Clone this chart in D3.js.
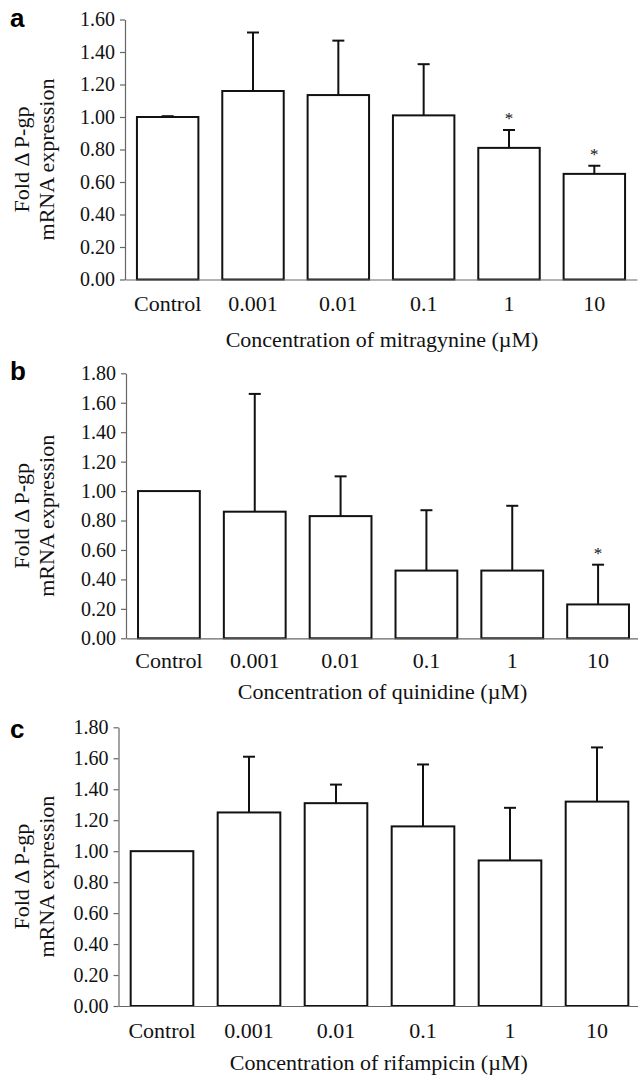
<!DOCTYPE html>
<html>
<head>
<meta charset="utf-8">
<script src="https://cdn.jsdelivr.net/npm/d3@7/dist/d3.min.js"></script>
<style>
  html, body { margin: 0; padding: 0; background: #fff; }
  svg { display: block; }
  .tick text { font-family: "Liberation Serif", "Times New Roman", serif; fill: #111; }
  .axis-title { font-family: "Liberation Serif", "Times New Roman", serif; fill: #111; }
  .panel-label { font-family: "Liberation Sans", Arial, sans-serif; font-weight: bold; fill: #000; }
</style>
</head>
<body>
<svg id="chart" width="638" height="1075"></svg>
<script>
// Categories shared by all three panels
const categories = ['Control', '0.001', '0.01', '0.1', '1', '10'];

// Panel a: mitragynine
const mitragynineMeans = [1.00, 1.16, 1.135, 1.01, 0.81, 0.65];
const mitragynineErrors = [0.005, 0.36, 0.335, 0.315, 0.11, 0.05];
const mitragynineSig = [false, false, false, false, true, true];

// Panel b: quinidine
const quinidineMeans = [1.00, 0.86, 0.83, 0.46, 0.46, 0.23];
const quinidineErrors = [0, 0.80, 0.27, 0.41, 0.44, 0.27];
const quinidineSig = [false, false, false, false, false, true];

// Panel c: rifampicin
const rifampicinMeans = [1.00, 1.25, 1.31, 1.16, 0.94, 1.32];
const rifampicinErrors = [0, 0.36, 0.12, 0.40, 0.34, 0.35];
const rifampicinSig = [false, false, false, false, false, false];

// Y tick values
const ticksA = [0, 0.2, 0.4, 0.6, 0.8, 1.0, 1.2, 1.4, 1.6];
const ticksBC = [0, 0.2, 0.4, 0.6, 0.8, 1.0, 1.2, 1.4, 1.6, 1.8];

const panels = [
  { label: 'a', drug: 'mitragynine', means: mitragynineMeans, errors: mitragynineErrors, sig: mitragynineSig,
    ticks: ticksA, left: 125, right: 637, top: 19.5, bottom: 279.5, labelDy: 7, tickOff: 32, titleOff: 67 },
  { label: 'b', drug: 'quinidine', means: quinidineMeans, errors: quinidineErrors, sig: quinidineSig,
    ticks: ticksBC, left: 126, right: 641, top: 373.3, bottom: 638.3, labelDy: 7, tickOff: 30, titleOff: 61 },
  { label: 'c', drug: 'rifampicin', means: rifampicinMeans, errors: rifampicinErrors, sig: rifampicinSig,
    ticks: ticksBC, left: 118.5, right: 640.5, top: 727.3, bottom: 1006, labelDy: 11, tickOff: 32, titleOff: 64 }
];

const svg = d3.select('#chart');

panels.forEach(p => {
  const g = svg.append('g');
  const maxV = p.ticks[p.ticks.length - 1];

  const x = d3.scaleBand()
    .domain(categories)
    .range([p.left, p.right])
    .paddingInner(0.28)
    .paddingOuter(0.14);

  const y = d3.scaleLinear()
    .domain([0, maxV])
    .range([p.bottom, p.top]);

  const rows = categories.map((c, i) => ({ cat: c, mean: p.means[i], err: p.errors[i], sig: p.sig[i] }));

  // bars
  g.append('g').selectAll('rect')
    .data(rows)
    .enter().append('rect')
    .attr('x', d => x(d.cat))
    .attr('y', d => y(d.mean))
    .attr('width', x.bandwidth())
    .attr('height', d => y(0) - y(d.mean))
    .attr('fill', '#fff')
    .attr('stroke', '#111')
    .attr('stroke-width', 2);

  // error bars (upper only)
  const eb = g.append('g').selectAll('g')
    .data(rows.filter(d => d.err > 0))
    .enter().append('g')
    .attr('stroke', '#111')
    .attr('stroke-width', 2);

  eb.append('line')
    .attr('x1', d => x(d.cat) + x.bandwidth() / 2)
    .attr('x2', d => x(d.cat) + x.bandwidth() / 2)
    .attr('y1', d => y(d.mean))
    .attr('y2', d => y(d.mean + d.err));

  eb.append('line')
    .attr('x1', d => x(d.cat) + x.bandwidth() / 2 - 6)
    .attr('x2', d => x(d.cat) + x.bandwidth() / 2 + 6)
    .attr('y1', d => y(d.mean + d.err))
    .attr('y2', d => y(d.mean + d.err));

  // significance stars
  g.append('g').selectAll('text')
    .data(rows.filter(d => d.sig))
    .enter().append('text')
    .attr('x', d => x(d.cat) + x.bandwidth() / 2)
    .attr('y', d => y(d.mean + d.err) - 6)
    .attr('text-anchor', 'middle')
    .attr('fill', '#111')
    .style('font-family', '"Liberation Serif", "Times New Roman", serif')
    .style('font-size', '17px')
    .text('*');

  // y axis
  const yAxis = g.append('g')
    .attr('transform', `translate(${p.left},0)`)
    .call(d3.axisLeft(y)
      .tickValues(p.ticks)
      .tickFormat(d3.format('.2f'))
      .tickSize(5)
      .tickSizeOuter(0)
      .tickPadding(5));
  yAxis.selectAll('.tick text').style('font-size', '20px');
  yAxis.selectAll('path, line').attr('stroke', '#666').attr('stroke-width', 1.2);

  // x axis
  const xAxis = g.append('g')
    .attr('transform', `translate(0,${p.bottom})`)
    .call(d3.axisBottom(x).tickSize(0).tickSizeOuter(0).tickPadding(p.tickOff - 16));
  xAxis.select('.domain').attr('stroke', '#666').attr('stroke-width', 1.2);
  xAxis.selectAll('.tick text').style('font-size', '22px');

  // x title
  g.append('text')
    .attr('class', 'axis-title')
    .attr('x', (p.left + Math.min(p.right, 637)) / 2 + 1)
    .attr('y', p.bottom + p.titleOff)
    .attr('text-anchor', 'middle')
    .style('font-size', '22px')
    .text(`Concentration of ${p.drug} (\u00b5M)`);

  // y title (two lines, rotated)
  const cy = (p.top + p.bottom) / 2 + 10;
  const yt = g.append('text')
    .attr('class', 'axis-title')
    .attr('transform', `translate(0,${cy}) rotate(-90)`)
    .attr('text-anchor', 'middle')
    .style('font-size', '22px');
  yt.append('tspan').attr('x', 0).attr('y', 29).text('Fold \u0394 P-gp');
  yt.append('tspan').attr('x', 0).attr('y', 54).text('mRNA expression');

  // panel label
  g.append('text')
    .attr('class', 'panel-label')
    .attr('x', 10)
    .attr('y', p.top + p.labelDy)
    .style('font-size', '26px')
    .text(p.label);
});
</script>
</body>
</html>
